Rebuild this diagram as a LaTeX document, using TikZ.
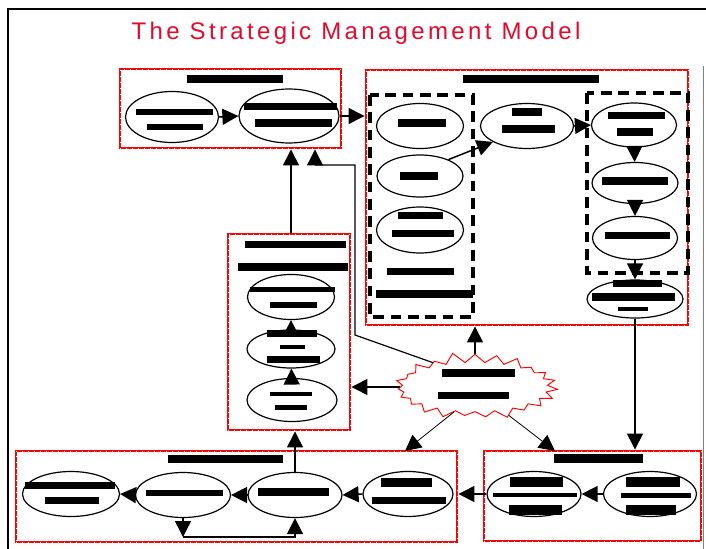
\documentclass[tikz,border=0pt]{standalone}
\usepackage{fontspec}
\setmainfont{Liberation Sans}
\usetikzlibrary{shapes.geometric,shapes.symbols,arrows.meta}
\definecolor{boxred}{RGB}{255,0,0}
\definecolor{titlered}{RGB}{228,8,44}
\tikzset{every picture/.style={line width=0.75pt}}
\tikzset{
  redbox/.style={draw=boxred, line width=2.2pt, inner sep=0pt,
    postaction={draw=white, line width=0.6pt, dash pattern=on 1pt off 3.5pt}},
  boxsize/.style 2 args={minimum width=0.75*#1pt, minimum height=0.75*#2pt},
  ell/.style={ellipse, draw, line width=0.9pt, inner sep=0pt},
  ellsize/.style 2 args={minimum width=0.75*#1pt, minimum height=0.75*#2pt},
  dashframe/.style={draw, line width=3pt, dash pattern=on 8pt off 5pt},
  burst/.style={starburst, draw=boxred, fill=white, line width=0.7pt, inner sep=0pt,
    starburst points=23, starburst point height=8pt, random starburst=11},
  arr/.style={-{Triangle[length=12pt,width=12pt]}, line width=1.1pt},
  thinarr/.style={-{Triangle[length=12pt,width=12pt]}, line width=0.6pt},
  titletext/.style={text=titlered, font=\fontsize{18pt}{21pt}\selectfont\addfontfeatures{LetterSpace=14}}
}

\begin{document}
\begin{tikzpicture}[x=0.75pt,y=0.75pt,yscale=-1,xscale=1]
\useasboundingbox (0,0) rectangle (706,549);

%Frame
\draw [line width=1.5pt] (8,549) -- (8,9) -- (706,9) ;
\draw [color=gray, line width=0.6pt] (703,66) -- (703,549) ;

% Text Node
\node [titletext] (title) at (356,33) {The Strategic Management Model};

%Boxes
\node [redbox, boxsize={221}{79}] (scanbox) at (230.5,108.5) {};
\node [redbox, boxsize={322}{255}] (formbox) at (527,197.5) {};
\node [redbox, boxsize={122}{196}] (implbox) at (289,332) {};
\node [redbox, boxsize={441}{91}] (evalbox) at (236.5,496.5) {};
\node [redbox, boxsize={217}{90}] (feedbox) at (592.5,496) {};

%Dashed frames in formbox
\draw [dashframe] (370,95) rectangle (473,317) ;
\draw [dashframe] (587,93) rectangle (688,273) ;

%Ellipses
\node [ell, ellsize={93}{51}] (scanA) at (172,117) {};
\node [ell, ellsize={100}{54}] (scanB) at (289,116) {};
\node [ell, ellsize={87}{45}] (formA) at (420,126) {};
\node [ell, ellsize={86}{42}] (formB) at (420,176) {};
\node [ell, ellsize={87}{46}] (formC) at (420,230) {};
\node [ell, ellsize={93}{45}] (formM) at (527,126) {};
\node [ell, ellsize={85}{44}] (formR1) at (634,125) {};
\node [ell, ellsize={86}{41}] (formR2) at (635,183) {};
\node [ell, ellsize={85}{43}] (formR3) at (635,238) {};
\node [ell, ellsize={96}{38}] (formR4) at (635,299) {};
\node [ell, ellsize={87}{45}] (implA) at (291,297) {};
\node [ell, ellsize={88}{38}] (implB) at (291,349) {};
\node [ell, ellsize={90}{43}] (implC) at (292,400) {};
\node [ell, ellsize={97}{45}] (evalA) at (71,494) {};
\node [ell, ellsize={95}{45}] (evalB) at (183,495) {};
\node [ell, ellsize={94}{45}] (evalC) at (295,495) {};
\node [ell, ellsize={90}{45}] (evalD) at (408,494) {};
\node [ell, ellsize={94}{45}] (feedA) at (534,494) {};
\node [ell, ellsize={93}{45}] (feedB) at (650,494) {};

%Starburst
\node [burst, minimum width=125pt, minimum height=53pt] (burst) at (475,387) {};

%Bars
\fill (187,75) rectangle (283,83) ;
\fill (136,109) rectangle (213,115) ;
\fill (147,124) rectangle (203,130) ;
\fill (244,103) rectangle (337,110) ;
\fill (255,119) rectangle (332,127) ;
\fill (463,75) rectangle (599,83) ;
\fill (398,119) rectangle (446,127) ;
\fill (400,172) rectangle (438,180) ;
\fill (398,212) rectangle (443,219) ;
\fill (392,230) rectangle (454,237) ;
\fill (387,268) rectangle (454,275) ;
\fill (376,290) rectangle (473,298) ;
\fill (512,108) rectangle (542,116) ;
\fill (502,125) rectangle (555,133) ;
\fill (608,112) rectangle (665,119) ;
\fill (617,128) rectangle (653,136) ;
\fill (602,177) rectangle (668,185) ;
\fill (605,232) rectangle (670,239) ;
\fill (613,280) rectangle (662,287) ;
\fill (592,293) rectangle (675,301) ;
\fill (618,307) rectangle (648,311) ;
\fill (245,241) rectangle (346,248) ;
\fill (238,263) rectangle (348,271) ;
\fill (250,287) rectangle (335,292) ;
\fill (270,302) rectangle (317,308) ;
\fill (267,330) rectangle (317,337) ;
\fill (280,345) rectangle (305,349) ;
\fill (267,356) rectangle (320,363) ;
\fill (270,392) rectangle (312,396) ;
\fill (275,405) rectangle (307,410) ;
\fill (442,369) rectangle (515,377) ;
\fill (438,392) rectangle (509,399) ;
\fill (168,455) rectangle (283,463) ;
\fill (25,482) rectangle (115,489) ;
\fill (45,497) rectangle (99,504) ;
\fill (146,490) rectangle (223,496) ;
\fill (258,488) rectangle (329,496) ;
\fill (381,478) rectangle (432,487) ;
\fill (372,497) rectangle (446,504) ;
\fill (554,454) rectangle (643,463) ;
\fill (510,477) rectangle (563,487) ;
\fill (493,493) rectangle (577,497) ;
\fill (509,505) rectangle (562,515) ;
\fill (626,477) rectangle (680,487) ;
\fill (621,493) rectangle (691,498) ;
\fill (626,505) rectangle (676,515) ;

%Coordinates
\coordinate (loop) at (183,537) ;
\coordinate (evalin) at (405,451) ;
\coordinate (feedin) at (555,451) ;
\coordinate (fbA) at (355,335) ;
\coordinate (fbB) at (355,165) ;
\coordinate (fbC) at (315,165) ;

%Connectors
\draw [arr] (scanA.east) -- (scanB.west) ;
\draw [arr] (scanB.east) -- (scanB.east -| formbox.west) ;
\draw [arr] (formB.30) -- (formM.205) ;
\draw [arr] (formM.east) -- (formR1.west) ;
\draw [arr] (formR1) -- (formR2) ;
\draw [arr] (formR2) -- (formR3) ;
\draw [arr] (formR3) -- (formR4) ;
\draw [arr] (formR4.south) -- (formR4.south |- feedbox.north) ;
\draw [arr] (implC) -- (implB) ;
\draw [arr] (implB) -- (implA) ;
\draw [arr] (implA |- implbox.north) -- (implA |- scanbox.south) ;
\draw [arr] (evalC.north) -- (evalC.north |- implbox.south) ;
\draw [arr] (feedB.west) -- (feedA.east) ;
\draw [arr] (feedA.west) -- (feedA.west -| evalbox.east) ;
\draw [arr] (evalD.west) -- (evalC.east) ;
\draw [arr] (evalC.west) -- (evalB.east) ;
\draw [arr] (evalB.west) -- (evalA.east) ;
\draw [arr] (evalB.south) -- (loop) ;
\draw [arr] (loop) -| (evalC.south) ;
\draw [arr] (burst.north) -- (burst.north |- formbox.south) ;
\draw [arr] (burst.west) -- (burst.west -| implbox.east) ;
\draw [thinarr] (burst.230) -- (evalin) ;
\draw [thinarr] (burst.-40) -- (feedin) ;
\draw [arr, line width=0.9pt] (burst.150) -- (fbA) -- (fbB) -- (fbC) -- (fbC |- scanbox.south) ;

\end{tikzpicture}
\end{document}
